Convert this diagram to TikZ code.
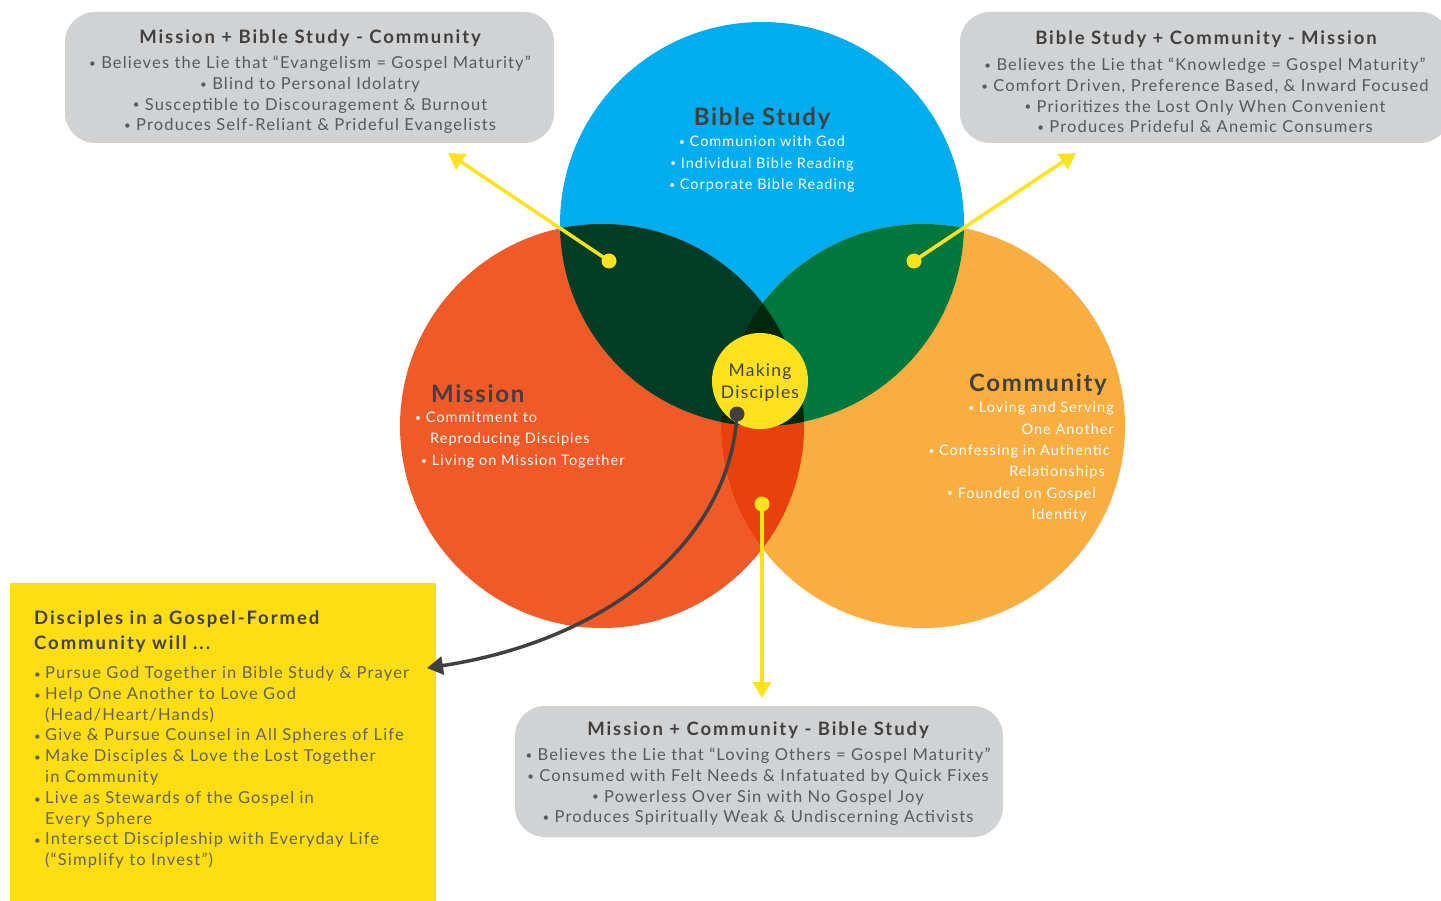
\documentclass[tikz,border=0pt]{standalone}
\usepackage{fontspec}
\setmainfont{Lato}[LetterSpace=7]
\newfontfamily\widefont{Lato}[LetterSpace=10.5]
\usepackage{tikz}
\usetikzlibrary{arrows.meta,positioning}
\usepackage{xcolor}
\definecolor{bsblue}{RGB}{0,174,239}
\definecolor{msred}{RGB}{240,90,40}
\definecolor{cmorange}{RGB}{251,174,64}
\definecolor{dkgreen}{RGB}{0,61,36}
\definecolor{mdgreen}{RGB}{0,119,61}
\definecolor{rdorange}{RGB}{233,65,13}
\definecolor{triplegreen}{RGB}{0,40,12}
\definecolor{mkyellow}{RGB}{255,225,30}
\definecolor{bxyellow}{RGB}{253,221,20}
\definecolor{bxgray}{RGB}{209,210,212}
\definecolor{txdark}{RGB}{64,64,65}
\definecolor{txgray}{RGB}{88,89,91}
\definecolor{txolive}{RGB}{98,98,88}
\tikzstyle{yarrow} = [line width=3.5pt,-{Triangle[length=16pt,width=18pt]},color=mkyellow]
\tikzstyle{garrow} = [line width=3.5pt,-{Triangle[length=16pt,width=18pt]},color=txdark]
\tikzstyle{ydot} = [circle,fill=mkyellow,minimum size=15pt,inner sep=0pt]
\tikzstyle{gdot} = [circle,fill=txdark,minimum size=15pt,inner sep=0pt]
\tikzstyle{graybox} = [fill=bxgray,rounded corners=30pt,inner sep=0pt]
\tikzstyle{boxtitle} = [font=\widefont\bfseries\fontsize{18.5}{21}\selectfont,text=txdark,inner sep=0pt]
\tikzstyle{boxbody} = [font=\fontsize{16.5}{20.7}\selectfont,text=txgray,align=center,inner sep=0pt]
\tikzstyle{ctitle} = [font=\bfseries\fontsize{24}{28}\selectfont,text=txdark,inner sep=0pt]
\tikzstyle{cbody} = [font=\fontsize{14.5}{21.3}\selectfont,text=white,inner sep=0pt]
\newcommand{\bul}{\raisebox{0.15ex}{\scalebox{0.7}{\textbullet}}\ }
\newcommand{\yb}{\makebox[11pt][l]{\scalebox{0.7}{\textbullet}}}
\newcommand{\gap}[1]{\makebox[#1]{}}

\begin{document}
\begin{tikzpicture}[x=1pt,y=-1pt]
\useasboundingbox (0,0) rectangle (1441,901);

% Circle centres
\coordinate (cB) at (762,224);
\coordinate (cM) at (602,426);
\coordinate (cC) at (923,426);

% Three circles
\fill[bsblue] (cB) circle (202);
\fill[msred] (cM) circle (202);
\fill[cmorange] (cC) circle (202);

% Overlaps
\begin{scope}
\clip (cM) circle (202);
\fill[rdorange] (cC) circle (202);
\end{scope}
\begin{scope}
\clip (cB) circle (202);
\fill[dkgreen] (cM) circle (202);
\fill[mdgreen] (cC) circle (202);
\clip (cM) circle (202);
\fill[triplegreen] (cC) circle (202);
\end{scope}

% Centre
\node[circle,fill=mkyellow,minimum size=96pt,inner sep=0pt] (make) at (760,381) {};
\node[align=center,inner sep=0pt,text=txdark,font=\fontsize{17.5}{22}\selectfont] (makeT) at (760,383) {Making\\Disciples};

% Circle labels
\node[ctitle] (tBS) at (762,119) {Bible Study};
\node[cbody,align=center] (lBS) at (762,164)
  {\bul Communion with God\\\bul Individual Bible Reading\\\bul Corporate Bible Reading};
\node[ctitle,anchor=west] (tMS) at (431,394) {Mission};
\node[cbody,align=left,anchor=west] (lMS) at (415,440)
  {\bul Commitment to\\\gap{15pt}Reproducing Disciples\\\gap{6pt}\bul Living on Mission Together};
\node[ctitle,anchor=east] (tCM) at (1107,385) {Community};
\node[cbody,align=right,anchor=east] (lCM) at (1114,462)
  {\bul Loving and Serving\\One Another\\\bul Confessing in Authentic\gap{4pt}\\Relationships\gap{9pt}\\\bul Founded on Gospel\gap{18pt}\\Identity\gap{27pt}};

% Gray boxes
\node[graybox,minimum width=489pt,minimum height=131pt] (bMB) at (309.5,77.5) {};
\node[boxtitle] at (310,38) {Mission + Bible Study - Community};
\node[boxbody] at (310,95)
  {\bul Believes the Lie that “Evangelism = Gospel Maturity”\\\bul Blind to Personal Idolatry\\\bul Susceptible to Discouragement \& Burnout\\\bul Produces Self-Reliant \& Prideful Evangelists};

\node[graybox,minimum width=490pt,minimum height=131pt] (bBC) at (1205,77.5) {};
\node[boxtitle] at (1206,39) {Bible Study + Community - Mission};
\node[boxbody] at (1205,95.5)
  {\bul Believes the Lie that “Knowledge = Gospel Maturity”\\\bul Comfort Driven, Preference Based, \& Inward Focused\\\bul Prioritizes the Lost Only When Convenient\\\bul Produces Prideful \& Anemic Consumers};

\node[graybox,minimum width=488pt,minimum height=131pt] (bMC) at (759,771.5) {};
\node[boxtitle] at (758,730) {Mission + Community - Bible Study};
\node[boxbody] at (758,787)
  {\bul Believes the Lie that “Loving Others = Gospel Maturity”\\\bul Consumed with Felt Needs \& Infatuated by Quick Fixes\\\bul Powerless Over Sin with No Gospel Joy\\\bul Produces Spiritually Weak \& Undiscerning Activists};

% Yellow box
\node[fill=bxyellow,minimum width=426pt,minimum height=322pt,inner sep=0pt,anchor=north west] (bYB) at (10,583) {};
\node[anchor=west,align=left,inner sep=0pt,text=txdark,font=\widefont\bfseries\fontsize{18.5}{25}\selectfont] (tYB) at (34,631.5)
  {Disciples in a Gospel-Formed\\Community will ...};
\node[anchor=west,align=left,inner sep=0pt,text=txolive,font=\fontsize{16.5}{20.8}\selectfont] (lYB) at (34,767.5)
  {\yb Pursue God Together in Bible Study \& Prayer\\
   \yb Help One Another to Love God\\\gap{11pt}(Head/Heart/Hands)\\
   \yb Give \& Pursue Counsel in All Spheres of Life\\
   \yb Make Disciples \& Love the Lost Together\\\gap{11pt}in Community\\
   \yb Live as Stewards of the Gospel in\\\gap{11pt}Every Sphere\\
   \yb Intersect Discipleship with Everyday Life\\\gap{11pt}(“Simplify to Invest”)};

% Arrow ends
\coordinate (eMB) at (448,153);
\coordinate (eBC) at (1076,153);
\coordinate (eMC) at (762,698);
\coordinate (eYB) at (427,668);

% Connectors
\draw[yarrow] (609,261) -- (eMB);
\draw[yarrow] (914,261) -- (eBC);
\draw[yarrow] (762,504) -- (eMC);
\node[ydot] (dMB) at (609,261) {};
\node[ydot] (dBC) at (914,261) {};
\node[ydot] (dMC) at (762,504) {};
\node[gdot] (dMD) at (737,414) {};
\draw[garrow] (dMD.center) .. controls (730,540) and (610,640) .. (eYB);
\end{tikzpicture}
\end{document}
